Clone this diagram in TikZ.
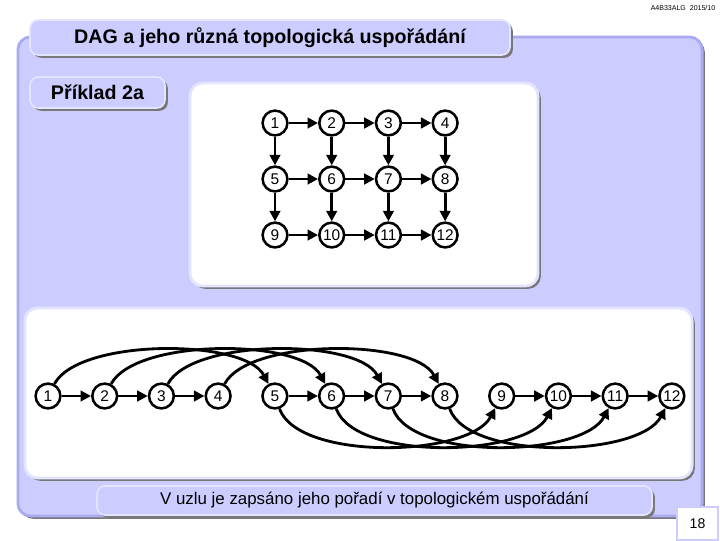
\documentclass[tikz,border=0pt]{standalone}
\usepackage{fontspec}
\setmainfont{Liberation Sans}
\usetikzlibrary{positioning,arrows.meta,shadows}
\definecolor{lavfill}{RGB}{204,204,255}
\definecolor{lavedge}{RGB}{170,170,240}
\definecolor{lavlight}{RGB}{228,228,255}
\definecolor{shadegray}{RGB}{120,120,120}

\begin{document}
\begin{tikzpicture}[
  x=0.025cm, y=-0.025cm,
  node distance=1.4cm and 1.4175cm, on grid,
  vert/.style={circle, draw, line width=1.8pt, fill=white, minimum size=0.62cm,
               inner sep=0pt, font=\fontsize{11}{11}\selectfont},
  arr/.style={-{Triangle[length=7.5pt,width=7.5pt]}, line width=2pt},
  shade/.style={drop shadow={shadow xshift=2pt, shadow yshift=-2pt,
                fill=shadegray, opacity=1}},
  panel/.style={rounded corners=9pt, fill=lavfill, draw=lavedge, line width=2pt, shade},
  tab/.style={rounded corners=6pt, fill=lavfill, draw=lavlight, line width=1.2pt,
              inner sep=0pt, shade},
  sheet/.style={rounded corners=9pt, fill=white, draw=lavlight, line width=2pt, shade}
]
  \useasboundingbox (0,0) rectangle (720,540);

  % slide frame
  \node[panel, minimum width=17.1cm, minimum height=11.975cm] (board) at (360,276.5) {};
  \node[font=\fontsize{5}{6}\selectfont] (header) at (683,8) {A4B33ALG\ \ 2015/10};
  \node[tab, minimum width=12cm, minimum height=0.875cm,
        font=\fontsize{14}{14}\selectfont\bfseries] (title) at (270,37.5)
        {DAG a jeho různá topologická uspořádání};
  \node[tab, minimum width=3.375cm, minimum height=0.775cm,
        font=\fontsize{14}{14}\selectfont\bfseries] (example) at (97.5,92.5) {Příklad 2a};
  \node[sheet, minimum width=8.7cm, minimum height=5.075cm] (gridsheet) at (364,184.5) {};
  \node[sheet, minimum width=16.675cm, minimum height=4.25cm] (rowsheet) at (358.5,393) {};
  \node[tab, minimum width=13.875cm, minimum height=0.725cm,
        font=\fontsize{12}{12}\selectfont] (caption) at (374.5,500.5)
        {V uzlu je zapsáno jeho pořadí v topologickém uspořádání};
  \node[draw=lavfill, line width=2pt, fill=white, minimum width=1.025cm,
        minimum height=0.825cm, inner sep=0pt, font=\fontsize{10}{10}\selectfont]
        (pagenum) at (697.5,523.5) {18};

  % the DAG as a grid
  \node[vert] (g1) at (275,123) {1};
  \node[vert, right=of g1] (g2) {2};
  \node[vert, right=of g2] (g3) {3};
  \node[vert, right=of g3] (g4) {4};
  \node[vert, below=of g1] (g5) {5};
  \node[vert, right=of g5] (g6) {6};
  \node[vert, right=of g6] (g7) {7};
  \node[vert, right=of g7] (g8) {8};
  \node[vert, below=of g5] (g9) {9};
  \node[vert, right=of g9] (g10) {10};
  \node[vert, right=of g10] (g11) {11};
  \node[vert, right=of g11] (g12) {12};

  \draw[arr] (g1) -- (g2);
  \draw[arr] (g2) -- (g3);
  \draw[arr] (g3) -- (g4);
  \draw[arr] (g5) -- (g6);
  \draw[arr] (g6) -- (g7);
  \draw[arr] (g7) -- (g8);
  \draw[arr] (g9) -- (g10);
  \draw[arr] (g10) -- (g11);
  \draw[arr] (g11) -- (g12);
  \draw[arr] (g1) -- (g5);
  \draw[arr] (g2) -- (g6);
  \draw[arr] (g3) -- (g7);
  \draw[arr] (g4) -- (g8);
  \draw[arr] (g5) -- (g9);
  \draw[arr] (g6) -- (g10);
  \draw[arr] (g7) -- (g11);
  \draw[arr] (g8) -- (g12);

  % the same DAG in topological order
  \node[vert] (n1) at (48,396) {1};
  \node[vert, right=of n1] (n2) {2};
  \node[vert, right=of n2] (n3) {3};
  \node[vert, right=of n3] (n4) {4};
  \node[vert, right=of n4] (n5) {5};
  \node[vert, right=of n5] (n6) {6};
  \node[vert, right=of n6] (n7) {7};
  \node[vert, right=of n7] (n8) {8};
  \node[vert, right=of n8] (n9) {9};
  \node[vert, right=of n9] (n10) {10};
  \node[vert, right=of n10] (n11) {11};
  \node[vert, right=of n11] (n12) {12};

  \draw[arr] (n1) -- (n2);
  \draw[arr] (n2) -- (n3);
  \draw[arr] (n3) -- (n4);
  \draw[arr] (n5) -- (n6);
  \draw[arr] (n6) -- (n7);
  \draw[arr] (n7) -- (n8);
  \draw[arr] (n9) -- (n10);
  \draw[arr] (n10) -- (n11);
  \draw[arr] (n11) -- (n12);

  % long edges above and below the row
  \draw[arr] (n1) to[out=62, in=118, looseness=0.62] (n5);
  \draw[arr] (n2) to[out=62, in=118, looseness=0.62] (n6);
  \draw[arr] (n3) to[out=62, in=118, looseness=0.62] (n7);
  \draw[arr] (n4) to[out=62, in=118, looseness=0.62] (n8);
  \draw[arr] (n5) to[out=-70, in=-118, looseness=0.66] (n9);
  \draw[arr] (n6) to[out=-70, in=-118, looseness=0.66] (n10);
  \draw[arr] (n7) to[out=-70, in=-118, looseness=0.66] (n11);
  \draw[arr] (n8) to[out=-70, in=-118, looseness=0.66] (n12);
\end{tikzpicture}
\end{document}
